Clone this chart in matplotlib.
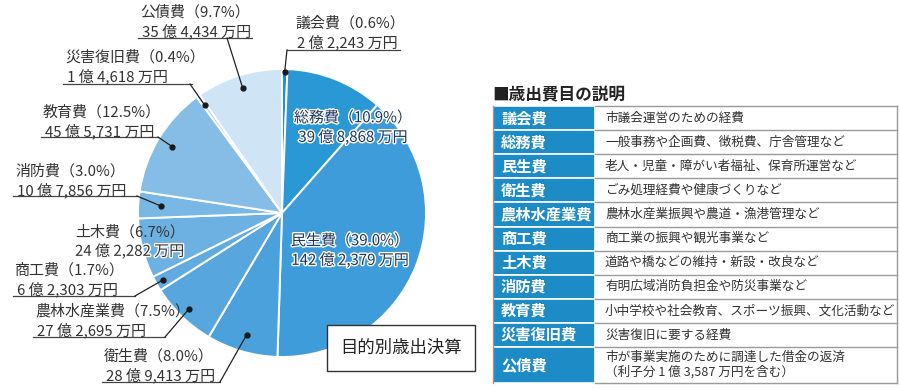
import numpy as np
import matplotlib
matplotlib.use("Agg")
from matplotlib import pyplot as plt
from matplotlib import patheffects as pe
from matplotlib.patches import Rectangle

plt.rcParams['font.family'] = ['Noto Sans CJK JP', 'DejaVu Sans']

# data
categories = ["議会費", "総務費", "民生費", "衛生費", "農林水産業費", "商工費",
              "土木費", "消防費", "教育費", "災害復旧費", "公債費"]
shares = [0.6, 10.9, 39.0, 8.0, 7.5, 1.7, 6.7, 3.0, 12.5, 0.4, 9.7]
amounts = ["2 億 2,243 万円", "39 億 8,868 万円", "142 億 2,379 万円", "28 億 9,413 万円",
           "27 億 2,695 万円", "6 億 2,303 万円", "24 億 2,282 万円", "10 億 7,856 万円",
           "45 億 5,731 万円", "1 億 4,618 万円", "35 億 4,434 万円"]
descriptions = ["市議会運営のための経費",
                "一般事務や企画費、徴税費、庁舎管理など",
                "老人・児童・障がい者福祉、保育所運営など",
                "ごみ処理経費や健康づくりなど",
                "農林水産業振興や農道・漁港管理など",
                "商工業の振興や観光事業など",
                "道路や橋などの維持・新設・改良など",
                "有明広域消防負担金や防災事業など",
                "小中学校や社会教育、スポーツ振興、文化活動など",
                "災害復旧に要する経費",
                "市が事業実施のために調達した借金の返済\n（利子分 1 億 3,587 万円を含む）"]
chart_title = "目的別歳出決算"
table_title = "■歳出費目の説明"

# styles / layout
colors = ["#1f8fd0", "#2b98d6", "#3d9cd9", "#4aa1dc", "#57a7de", "#62abe0",
          "#6db1e2", "#79b7e4", "#86bde6", "#a9d0ef", "#cfe4f5"]
W, H = 900, 388
cx, cy, R = 282, 213, 144
text_col = "#333333"
table_blue = "#1d8bc6"
fs = 10.8

# outside labels: text pos, underline (x0, x1, y), leader start, dot radius fraction
outside = {
    "議会費": dict(x=295, y=23, under=(287, 400, 50), joint=(287, 50), frac=0.98),
    "公債費": dict(x=140, y=12, under=(138, 252, 38), joint=(227, 38), frac=0.91),
    "災害復旧費": dict(x=65, y=57, under=(63, 192, 84), joint=(190, 84), frac=0.92),
    "教育費": dict(x=43, y=112, under=(41, 158, 137), joint=(158, 137), frac=0.89),
    "消防費": dict(x=15, y=171, under=(13, 137, 196), joint=(137, 196), frac=0.84),
    "商工費": dict(x=15, y=270, under=(13, 135, 296), joint=(135, 296), frac=0.95),
    "農林水産業費": dict(x=35, y=311, under=(33, 165, 337), joint=(165, 337), frac=0.93),
    "衛生費": dict(x=104, y=356, under=(102, 220, 382), joint=(220, 382), frac=0.88),
}
plain = {"土木費": (75, 232)}
inside = {"総務費": (353, 118), "民生費": (350, 241)}


def main():
    fig = plt.figure(figsize=(W / 100, H / 100), dpi=100)
    fig.patch.set_facecolor("white")

    pax = fig.add_axes([(cx - R) / W, 1 - (cy + R) / H, 2 * R / W, 2 * R / H])
    wedges, _ = pax.pie(shares, colors=colors, startangle=90, counterclock=False,
                        wedgeprops=dict(edgecolor="white", linewidth=1.4))
    pax.set_xlim(-1, 1)
    pax.set_ylim(-1, 1)
    pax.set_aspect("auto")
    pax.axis("off")

    ax = fig.add_axes([0, 0, 1, 1])
    ax.set_xlim(0, W)
    ax.set_ylim(H, 0)
    ax.axis("off")
    ax.patch.set_alpha(0)

    cum = np.cumsum([0] + shares)
    for i, name in enumerate(categories):
        pct = f"{name}（{shares[i]:.1f}%）"
        mid = (cum[i] + cum[i + 1]) / 2 / 100 * 2 * np.pi
        if name in outside:
            lay = outside[name]
            ax.text(lay["x"], lay["y"], pct, fontsize=fs, color=text_col, va="center", ha="left")
            ax.text(lay["x"] + 2, lay["y"] + 19, amounts[i], fontsize=fs, color=text_col,
                    va="center", ha="left")
            x0, x1, uy = lay["under"]
            ax.plot([x0, x1], [uy, uy], color="#444444", lw=0.9)
            dx = cx + R * lay["frac"] * np.sin(mid)
            dy = cy - R * lay["frac"] * np.cos(mid)
            jx, jy = lay["joint"]
            ax.plot([jx, dx], [jy, dy], color="#222222", lw=0.9)
            ax.plot(dx, dy, "o", color="#1a1a1a", ms=3.5)
        elif name in plain:
            x, y = plain[name]
            ax.text(x, y, pct, fontsize=fs, color=text_col, va="center", ha="left")
            ax.text(x, y + 19, amounts[i], fontsize=fs, color=text_col, va="center", ha="left",
                    path_effects=[pe.withStroke(linewidth=2, foreground="white")])
        else:
            x, y = inside[name]
            for k, s in enumerate([pct, amounts[i]]):
                ax.text(x, y + 19 * k, s, fontsize=fs, color="#1e3560", va="center", ha="center",
                        path_effects=[pe.withStroke(linewidth=2, foreground="white")])

    # title box
    ax.add_patch(Rectangle((327, 325), 148, 46, facecolor="white", edgecolor="#333333", lw=1, zorder=5))
    ax.text(401, 348, chart_title, fontsize=12.5, color="#222222", ha="center", va="center", zorder=6)

    # description table
    ax.text(492, 95, table_title, fontsize=12, fontweight="bold", color="#222222", va="center", ha="left")
    tx0, tx1, tx2 = 493, 595, 897
    heights = [24.1] * 10 + [36]
    tops = 106 + np.concatenate([[0], np.cumsum(heights)])
    for i, name in enumerate(categories):
        y0, y1 = tops[i], tops[i + 1]
        ax.add_patch(Rectangle((tx0, y0), tx1 - tx0, y1 - y0, facecolor=table_blue,
                               edgecolor="white", lw=1.2))
        ax.plot([tx1, tx2], [y1, y1], color="#9a9a9a", lw=1)
        ax.text(tx0 + 8, (y0 + y1) / 2, name, fontsize=11, fontweight="bold", color="white",
                va="center", ha="left")
        ax.text(tx1 + 10, (y0 + y1) / 2, descriptions[i], fontsize=9.1, color="#333333",
                va="center", ha="left", linespacing=1.1)
    ax.plot([tx1, tx2], [tops[0], tops[0]], color="#9a9a9a", lw=1)
    ax.plot([tx2, tx2], [tops[0], tops[-1]], color="#9a9a9a", lw=1)
    ax.plot([tx0, tx0], [tops[0], tops[-1]], color="#9a9a9a", lw=1)

    fig.savefig("out.png", dpi=100)


if __name__ == "__main__":
    main()
